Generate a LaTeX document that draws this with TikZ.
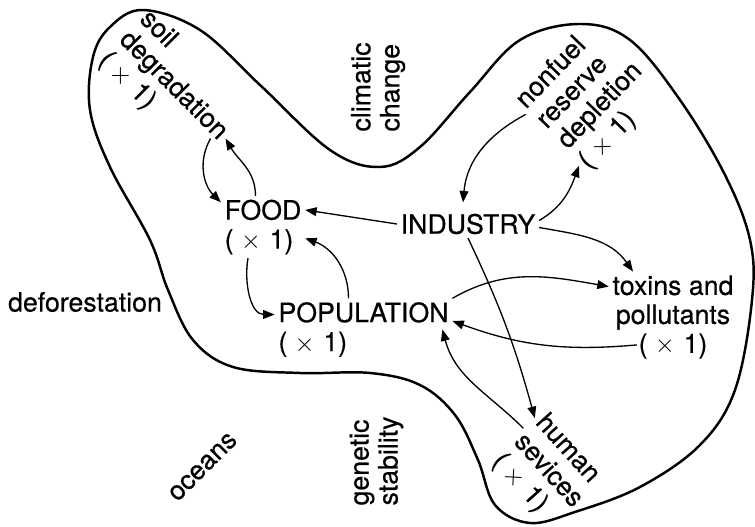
\documentclass[tikz,border=0pt]{standalone}
\usepackage{fontspec}
\setmainfont{TeX Gyre Heros}[FakeBold=0.5]
\usetikzlibrary{arrows.meta}

\begin{document}
\begin{tikzpicture}[
                    every node/.style={font=\fontsize{15.2}{16.5}\selectfont, inner sep=2pt, align=left},
                    link/.style={-{Triangle[length=6.5pt,width=5pt]}, line width=0.75pt}
                   ]
                    \def\xone{( $\times$\,\,1)}
                    \useasboundingbox (0,0) rectangle (15.1,10.54);
                    % the boundary of the system
                    \draw[line width=1.4pt] plot[smooth cycle, tension=0.6] coordinates {
                        (2.86,10.34) (4.00,9.94) (5.20,8.84) (6.60,7.54) (7.60,7.20)
                        (8.40,7.60) (9.40,8.70) (10.40,9.74) (11.60,10.06) (12.60,9.74)
                        (13.60,8.54) (14.50,7.04) (15.00,5.74) (15.04,4.54) (14.70,2.74)
                        (14.00,1.64) (12.80,0.80) (11.50,0.30) (10.60,0.08) (9.90,0.44)
                        (9.56,1.34) (9.10,2.24) (8.40,2.84) (7.40,3.08) (6.00,3.08)
                        (4.66,3.20) (3.86,3.74) (3.36,4.74) (3.00,5.74) (2.20,7.20)
                        (1.80,8.34) (1.86,9.40) (2.20,10.00)};

                    % sectors inside
                    \node (food) at (5.26,6.0) {FOOD\\\xone};
                    \node (industry) at (9.36,6.06) {INDUSTRY};
                    \node (population) at (7.27,3.95) {POPULATION\\\xone};
                    \node[align=center] (toxins) at (13.46,4.2) {toxins and\\pollutants\\\xone};
                    \node[rotate=-45] (soil) at (3.46,8.82) {soil\\degradation\\\xone};
                    \node[rotate=46] (nonfuel) at (11.80,8.62) {nonfuel\\reserve\\depletion\\\xone};
                    \node[rotate=-48] (human) at (10.96,1.12) {human\\sevices\\\xone};

                    % left outside
                    \node[rotate=90] (climatic) at (7.56,8.80) {climatic\\change};
                    \node (deforestation) at (1.70,4.5) {deforestation};
                    \node[rotate=45] (oceans) at (4.06,1.2) {oceans};
                    \node[rotate=90] (genetic) at (7.53,1.32) {genetic\\stability};

                    % links
                    \draw[link] ([xshift=-0.15cm]food.north) to[out=90,in=-60] (soil.east);
                    \draw[link] ([xshift=-0.3cm]soil.east) to[out=-120,in=135] ([yshift=-0.13cm]food.north west);
                    \draw[link] (industry.west) -- (food.22);
                    \draw[link] ([xshift=-0.3cm]population.north) to[out=90,in=-20] (food.-15);
                    \draw[link] ([xshift=-0.3cm]food.south) to[out=-100,in=180] ([yshift=0.3cm]population.west);
                    \draw[link] (nonfuel.150) to[out=208,in=85] ([xshift=-0.1cm,yshift=0.15cm]industry.north);
                    \draw[link] ([yshift=2pt]industry.east) to[out=30,in=-110] (nonfuel.215);
                    \draw[link] ([yshift=-2pt]industry.east) to[out=-10,in=125] ([xshift=-0.8cm]toxins.north);
                    \draw[link] (industry.south) to[bend left=5] (human.152);
                    \draw[link] (population.north east) to[out=30,in=170] ([yshift=-0.3cm]toxins.north west);
                    \draw[link] ([shift={(-0.72,0.35)}]toxins.south) to[out=185,in=-20] ([yshift=0.17cm]population.east);
                    \draw[link] (human.168) to[out=135,in=-75] ([xshift=-0.2cm]population.east);
                \end{tikzpicture}
\end{document}
